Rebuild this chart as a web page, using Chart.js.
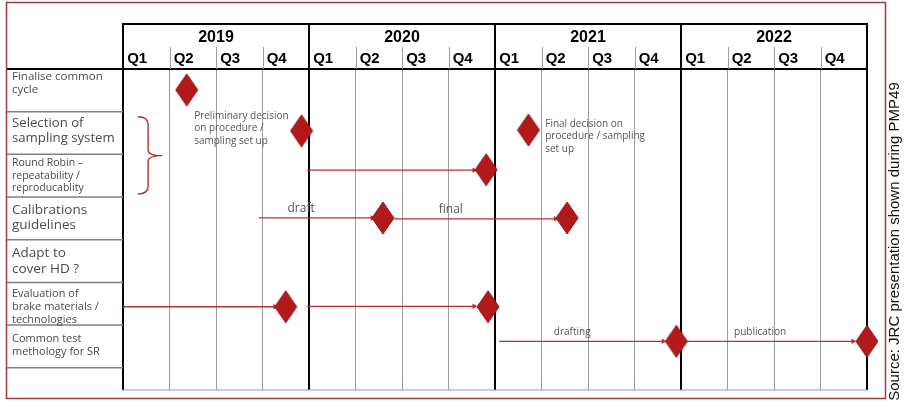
<!DOCTYPE html>
<html>
<head>
<meta charset="utf-8">
<script src="https://cdn.jsdelivr.net/npm/chart.js@4.4.0/dist/chart.umd.min.js"></script>
<style>
  html, body { margin: 0; padding: 0; background: #fff; }
  #wrap { width: 905px; height: 401px; position: relative; }
</style>
</head>
<body>
<div id="wrap"><canvas id="roadmap"></canvas></div>
<script>
// x runs in quarters: 0 = start of 2019 Q1, 16 = end of 2022 Q4
const years = ['2019', '2020', '2021', '2022'];
const quarters = ['Q1', 'Q2', 'Q3', 'Q4'];
const tasks = [
    ['Finalise common', 'cycle'],
    ['Selection of', 'sampling system'],
    ['Round Robin –', 'repeatability /', 'reproducablity'],
    ['Calibrations', 'guidelines'],
    ['Adapt to', 'cover HD ?'],
    ['Evaluation of', 'brake materials /', 'technologies'],
    ['Common test', 'methology for SR']
];

// milestones (diamonds)
const milestoneX = [1.37, 3.84, 8.72, 7.81, 5.59, 9.55, 3.50, 7.85, 11.90, 16.00];
const milestoneRow = [0.49, 1.45, 1.43, 2.36, 3.49, 3.49, 5.57, 5.57, 6.38, 6.38];

// arrows leading to milestones
const arrowFrom = [3.96, 2.92, 5.83, 0.00, 3.96, 8.09, 12.10];
const arrowTo = [7.55, 5.36, 9.30, 3.27, 7.55, 11.62, 15.70];
const arrowRow = [2.37, 3.49, 3.51, 5.57, 5.56, 6.38, 6.38];
const arrowText = ['', 'draft', 'final', '', '', 'drafting', 'publication'];
const arrowTextX = [0, 3.83, 7.05, 0, 0, 9.66, 13.70];

// free notes next to the sampling system milestones
const notes = [
    ['Preliminary decision', 'on procedure /', 'sampling set up'],
    ['Final decision on', 'procedure / sampling', 'set up']
];
const noteX = [1.53, 9.08];
const noteRow = [1.10, 1.29];

const source = 'Source: JRC presentation shown during PMP49';

// styling
const red = '#b3191b';
const lineRed = '#b5302f';
const textFont = '"Open Sans", Lato, sans-serif';
const headFont = '"Liberation Sans", Arial, sans-serif';
const taskSize = [11.5, 13.2, 10.5, 13.5, 13.5, 11, 11];
const taskLead = [13.3, 15, 12.8, 15, 15.7, 13, 13.3];
const taskTop = [0.18, 0.26, 0.2, 0.3, 0.32, 0.27, 0.32];

const diamond = document.createElement('canvas');
diamond.width = 24;
diamond.height = 34;
(function () {
    const d = diamond.getContext('2d');
    d.beginPath();
    d.moveTo(12, 1);
    d.lineTo(23, 17);
    d.lineTo(12, 33);
    d.lineTo(1, 17);
    d.closePath();
    d.fillStyle = red;
    d.fill();
    d.strokeStyle = '#8c1414';
    d.lineWidth = 1;
    d.stroke();
})();

const frame = {
    id: 'frame',
    beforeDraw(chart) {
        const { ctx, width, height } = chart;
        ctx.save();
        ctx.fillStyle = '#fff';
        ctx.fillRect(0, 0, width, height);
        ctx.restore();
    },
    afterDraw(chart) {
        const { ctx, chartArea } = chart;
        const x = chart.scales.x, y = chart.scales.y;
        const top = 24, qTop = 47;
        ctx.save();

        // outer border
        ctx.strokeStyle = '#9e3a3a';
        ctx.lineWidth = 1.5;
        ctx.strokeRect(6.5, 2.5, 879, 396);

        // header frame
        ctx.strokeStyle = '#000';
        ctx.lineWidth = 2;
        ctx.beginPath();
        ctx.moveTo(chartArea.left - 1, top);
        ctx.lineTo(chartArea.right + 1, top);
        ctx.moveTo(7, chartArea.top);
        ctx.lineTo(chartArea.left, chartArea.top);
        for (let i = 0; i <= years.length; i++) {
            const px = x.getPixelForValue(i * 4);
            ctx.moveTo(px, top);
            ctx.lineTo(px, chartArea.top);
        }
        ctx.stroke();

        ctx.strokeStyle = '#9c9c9c';
        ctx.lineWidth = 1;
        ctx.beginPath();
        for (let q = 1; q < 16; q++) {
            if (q % 4 === 0) continue;
            const px = Math.round(x.getPixelForValue(q)) + 0.5;
            ctx.moveTo(px, qTop);
            ctx.lineTo(px, chartArea.top);
        }
        ctx.moveTo(chartArea.left, chartArea.bottom);
        ctx.lineTo(chartArea.right, chartArea.bottom);
        ctx.stroke();

        ctx.fillStyle = '#000';
        ctx.font = 'bold 16px ' + headFont;
        ctx.textAlign = 'center';
        ctx.textBaseline = 'middle';
        years.forEach((yr, i) => {
            ctx.fillText(yr, x.getPixelForValue(i * 4 + 2), 38);
        });

        // task column
        ctx.strokeStyle = '#808080';
        ctx.lineWidth = 1.5;
        ctx.beginPath();
        for (let r = 1; r <= tasks.length; r++) {
            const py = y.getPixelForValue(r);
            ctx.moveTo(7, py);
            ctx.lineTo(chartArea.left, py);
        }
        ctx.stroke();

        ctx.fillStyle = '#4a4a4a';
        ctx.textAlign = 'left';
        tasks.forEach((lines, r) => {
            ctx.font = taskSize[r] + 'px ' + textFont;
            const y0 = y.getPixelForValue(r + taskTop[r]);
            lines.forEach((t, k) => ctx.fillText(t, 12, y0 + k * taskLead[r]));
        });

        // bracket grouping rows 2 and 3
        const bx = x.getPixelForValue(0.32), bm = x.getPixelForValue(0.54), bt = x.getPixelForValue(0.84);
        const b0 = y.getPixelForValue(1.12), b1 = y.getPixelForValue(2.03), b2 = y.getPixelForValue(2.93);
        ctx.strokeStyle = lineRed;
        ctx.lineWidth = 1.4;
        ctx.beginPath();
        ctx.moveTo(bx, b0);
        ctx.quadraticCurveTo(bm, b0, bm, b0 + 8);
        ctx.lineTo(bm, b1 - 6);
        ctx.quadraticCurveTo(bm, b1, bt, b1);
        ctx.quadraticCurveTo(bm, b1, bm, b1 + 6);
        ctx.lineTo(bm, b2 - 8);
        ctx.quadraticCurveTo(bm, b2, bx, b2);
        ctx.stroke();

        // notes and arrow captions
        ctx.fillStyle = '#555';
        ctx.font = '10px ' + textFont;
        notes.forEach((lines, i) => {
            const px = x.getPixelForValue(noteX[i]);
            const py = y.getPixelForValue(noteRow[i]);
            lines.forEach((t, k) => ctx.fillText(t, px, py + k * 12.5));
        });
        ctx.textAlign = 'center';
        arrowText.forEach((t, i) => {
            if (!t) return;
            ctx.font = (t.length > 6 ? 10 : 12) + 'px ' + textFont;
            ctx.fillText(t, x.getPixelForValue(arrowTextX[i]), y.getPixelForValue(arrowRow[i]) - 9);
        });

        // source, rotated
        ctx.translate(895, 241.5);
        ctx.rotate(-Math.PI / 2);
        ctx.fillStyle = '#111';
        ctx.font = '15px ' + headFont;
        ctx.fillText(source, 0, 0);
        ctx.restore();
    }
};

const datasets = [{
    type: 'scatter',
    data: milestoneX.map((v, i) => ({ x: v, y: milestoneRow[i] })),
    pointStyle: diamond,
    pointRadius: 10,
    clip: false,
    order: 0
}].concat(arrowFrom.map((a, i) => ({
    type: 'line',
    data: [{ x: a, y: arrowRow[i] }, { x: arrowTo[i], y: arrowRow[i] }],
    borderColor: lineRed,
    borderWidth: 1.3,
    pointRadius: [0, 3.2],
    pointStyle: 'triangle',
    pointRotation: 90,
    pointBackgroundColor: lineRed,
    pointBorderWidth: 0,
    clip: false,
    order: 1
})));

new Chart(document.getElementById('roadmap'), {
    type: 'scatter',
    data: { datasets: datasets },
    plugins: [frame],
    options: {
        responsive: true,
        maintainAspectRatio: false,
        animation: false,
        layout: { padding: { left: 123, right: 38, top: 24, bottom: 11 } },
        plugins: {
            legend: { display: false },
            tooltip: { enabled: false }
        },
        scales: {
            x: {
                type: 'linear',
                position: 'top',
                min: 0,
                max: 16,
                afterFit: s => { s.height = 45; },
                ticks: {
                    stepSize: 1,
                    align: 'start',
                    padding: 1,
                    autoSkip: false,
                    maxRotation: 0,
                    color: '#000',
                    font: { family: headFont, size: 15, weight: 'bold' },
                    callback: v => v < 16 ? ' ' + quarters[v % 4] : ''
                },
                grid: {
                    drawTicks: false,
                    color: c => c.tick.value % 4 === 0 ? '#000' : '#9c9c9c',
                    lineWidth: c => c.tick.value % 4 === 0 ? 2 : 1
                },
                border: { display: true, color: '#000', width: 2 }
            },
            y: {
                type: 'linear',
                min: 0,
                max: 7.52,
                reverse: true,
                display: false
            }
        }
    }
});
</script>
</body>
</html>
